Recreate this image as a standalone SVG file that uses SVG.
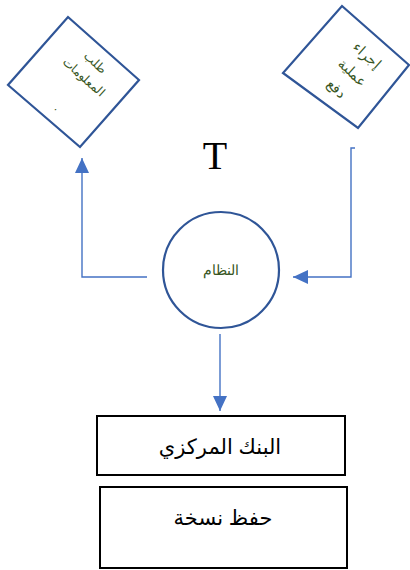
<svg xmlns="http://www.w3.org/2000/svg" width="410" height="570" viewBox="0 0 410 570">
<style>
.shape{fill:#ffffff;stroke:#2f5597;stroke-width:2.2}
.box{fill:#ffffff;stroke:#000000;stroke-width:2}
.green{fill:#375623;font-family:"Liberation Serif","DejaVu Serif",serif;font-size:12px;text-anchor:middle}
.black{fill:#000000;font-family:"Liberation Sans","DejaVu Sans",sans-serif;font-size:21px;text-anchor:middle}
.conn{fill:none;stroke:#4472c4;stroke-width:1.4}
</style>
<defs>
<marker id="ah" viewBox="0 0 15 14" refX="15" refY="7" markerWidth="15" markerHeight="14" markerUnits="userSpaceOnUse" orient="auto">
<path d="M0,0 L15,7 L0,14 Z" fill="#4472c4"/>
</marker>
</defs>
<rect width="410" height="570" fill="#ffffff"/>
<g id="connectors">
<path class="conn" d="M147,277 H82 V158" marker-end="url(#ah)"/>
<path class="conn" d="M355,148 H351 V277 H293" marker-end="url(#ah)"/>
<path class="conn" d="M220,334 V411" marker-end="url(#ah)"/>
</g>
<g id="node-request">
<polygon class="shape" points="68,17 139,80 80,147 8,85"/>
<text class="green" transform="translate(93,66) rotate(42)">طلب</text>
<text class="green" transform="translate(81,80) rotate(42)">المعلومات</text>
<text class="green" transform="translate(55,110) rotate(42)">.</text>
</g>
<g id="node-payment">
<polygon class="shape" points="342,6 409,65 358,128 283,73"/>
<text class="green" style="font-size:14px" transform="translate(364,59) rotate(42)">إجراء</text>
<text class="green" style="font-size:14px" transform="translate(349,76) rotate(42)">عملية</text>
<text class="green" style="font-size:14px" transform="translate(333,92) rotate(42)">دفع</text>
</g>
<g id="label-T">
<text x="215" y="169" font-family="'Liberation Serif','Times New Roman',serif" font-size="40" text-anchor="middle" fill="#000000">T</text>
</g>
<g id="node-system">
<circle class="shape" cx="221" cy="270" r="58"/>
<text class="green" x="221" y="275" style="font-size:14px">النظام</text>
</g>
<g id="node-bank">
<rect class="box" x="97" y="416" width="248" height="59"/>
<text class="black" x="220" y="454">البنك المركزي</text>
</g>
<g id="node-copy">
<rect class="box" x="100" y="487" width="247" height="81"/>
<text class="black" x="223" y="525">حفظ نسخة</text>
</g>
</svg>
